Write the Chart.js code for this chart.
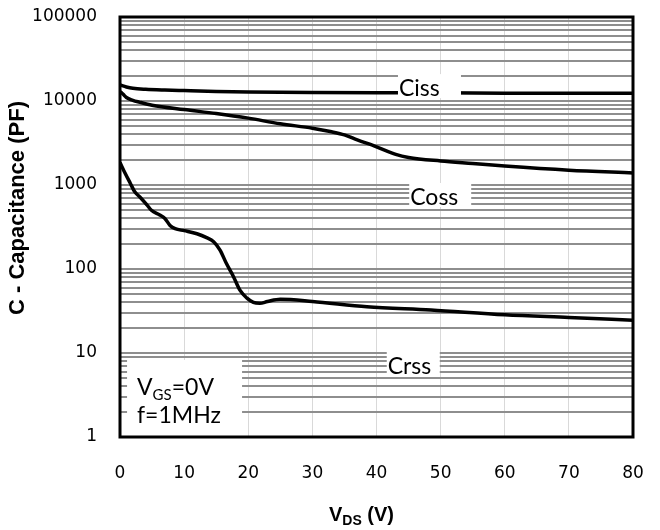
<!DOCTYPE html>
<html>
<head>
<meta charset="utf-8">
<script src="https://cdn.jsdelivr.net/npm/chart.js@4.4.1/dist/chart.umd.min.js"></script>
<style>
  html, body { margin: 0; padding: 0; background: #fff; }
  #wrap { width: 660px; height: 530px; }
</style>
</head>
<body>
<div id="wrap"><canvas id="capChart" width="660" height="530"></canvas></div>
<script>
/* ================================================================
   DATA (V_DS in volts, C in pF)
================================================================ */
const cissV = [0, 1, 2, 4, 7, 10, 15, 20, 30, 40, 50, 60, 70, 80];
const cissC = [15500, 14700, 14200, 13800, 13500, 13300, 13000, 12800, 12600, 12500, 12500, 12400, 12400, 12400];

const cossV = [0, 0.5, 1, 2, 3, 5, 10, 15, 20, 25, 30, 33, 35, 37, 40, 43, 45, 50, 55, 60, 70, 80];
const cossC = [13000, 12000, 11000, 10200, 9700, 8900, 7900, 7100, 6250, 5350, 4750, 4300, 3950, 3450, 2850, 2320, 2130, 1930, 1800, 1680, 1500, 1390];

const crssV = [0, 0.8, 1.6, 2.3, 3.1, 4.2, 4.9, 6.2, 7, 7.8, 8.6, 10, 12, 13.5, 14.6, 15.6, 16.6, 17.7, 18.7, 19.8, 20.8, 21.8, 23, 25, 30, 38.5, 48.5, 60, 70, 80];
const crssC = [1850, 1380, 1050, 830, 720, 580, 500, 440, 400, 330, 302, 286, 263, 236, 211, 168, 116, 81, 56, 45, 40, 39, 41, 43.5, 41, 35.5, 32.5, 28.5, 26.5, 24.6];

const xTicks = [0, 10, 20, 30, 40, 50, 60, 70, 80];
const yDecades = [1, 10, 100, 1000, 10000, 100000];

/* curve labels: anchor (top-left of white box) in data units */
const curveLabels = ['Ciss', 'Coss', 'Crss'];
const curveLabelV = [43.35, 45.1, 41.6];
const curveLabelC = [20900, 1057, 10.3];

const ANNO_FONT = '23px Lato';

function pts(xs, ys) { return xs.map((x, i) => ({ x, y: ys[i] })); }

function lineSet(label, data) {
  return {
    label, data,
    borderColor: '#000', backgroundColor: '#000',
    borderWidth: 3.5, pointRadius: 0,
    cubicInterpolationMode: 'monotone', fill: false
  };
}

/* ── minor log grid: 1..9 x 10^n ── */
function logTicks(scale) {
  const ticks = [];
  yDecades.forEach((d, i) => {
    if (i === yDecades.length - 1) { ticks.push({ value: d }); return; }
    for (let m = 1; m < 10; m++) ticks.push({ value: d * m });
  });
  scale.ticks = ticks;
}

/* ── white label boxes, text, frame, axis titles ── */
const decorPlugin = {
  id: 'decor',
  afterDatasetsDraw(chart) {
    const { ctx, chartArea: a, scales: { x, y } } = chart;
    ctx.save();

    // curve labels
    const boxW = [63, 62, 53];
    curveLabels.forEach((t, i) => {
      const bx = x.getPixelForValue(curveLabelV[i]);
      const by = y.getPixelForValue(curveLabelC[i]);
      ctx.fillStyle = '#fff';
      ctx.fillRect(bx, by, boxW[i], 24);
      ctx.fillStyle = '#000';
      ctx.font = ANNO_FONT;
      ctx.textAlign = 'left';
      ctx.textBaseline = 'alphabetic';
      ctx.fillText(t, bx + 1, by + 22);
    });

    // condition box
    const cx0 = x.getPixelForValue(1.1);
    const cy0 = y.getPixelForValue(8.26);
    ctx.fillStyle = '#fff';
    ctx.fillRect(cx0, cy0, 115, a.bottom - cy0);
    ctx.fillStyle = '#000';
    ctx.font = ANNO_FONT;
    let tx = cx0 + 10, base = cy0 + 35;
    ctx.fillText('V', tx, base);
    tx += ctx.measureText('V').width;
    ctx.font = '15px Lato';
    ctx.fillText('GS', tx, base + 5);
    tx += ctx.measureText('GS').width;
    ctx.font = ANNO_FONT;
    ctx.fillText('=0V', tx, base);
    ctx.fillText('f=1MHz', cx0 + 10, base + 28);

    // frame
    ctx.strokeStyle = '#000';
    ctx.lineWidth = 3;
    ctx.strokeRect(a.left, a.top, a.right - a.left, a.bottom - a.top);

    // y title
    ctx.save();
    ctx.translate(18, (a.top + a.bottom) / 2 - 19);
    ctx.rotate(-Math.PI / 2);
    ctx.font = 'bold 22px "Liberation Sans"';
    ctx.textAlign = 'center';
    ctx.textBaseline = 'middle';
    ctx.fillText('C - Capacitance (PF)', 0, 0);
    ctx.restore();

    // x title  V_DS (V)
    ctx.textAlign = 'left';
    ctx.textBaseline = 'alphabetic';
    const big = 'bold 20px "Liberation Sans"', small = 'bold 14px "Liberation Sans"';
    ctx.font = big;   const w1 = ctx.measureText('V').width;
    ctx.font = small; const w2 = ctx.measureText('DS').width;
    ctx.font = big;   const w3 = ctx.measureText(' (V)').width;
    let sx = (a.left + a.right) / 2 - (w1 + w2 + w3) / 2 - 15;
    const sy = 521;
    ctx.font = big;   ctx.fillText('V', sx, sy); sx += w1;
    ctx.font = small; ctx.fillText('DS', sx, sy + 4); sx += w2;
    ctx.font = big;   ctx.fillText(' (V)', sx, sy);

    ctx.restore();
  }
};

new Chart(document.getElementById('capChart'), {
  type: 'line',
  data: {
    datasets: [
      lineSet('Ciss', pts(cissV, cissC)),
      lineSet('Coss', pts(cossV, cossC)),
      lineSet('Crss', pts(crssV, crssC))
    ]
  },
  options: {
    responsive: false,
    animation: false,
    layout: { padding: { top: 17, right: 27, left: 0, bottom: 0 } },
    plugins: { legend: { display: false }, tooltip: { enabled: false } },
    scales: {
      x: {
        type: 'linear', min: 0, max: 80,
        afterFit: s => { s.height = 93; s.paddingLeft = 0; s.paddingRight = 0; },
        afterBuildTicks: s => { s.ticks = xTicks.map(v => ({ value: v })); },
        border: { display: false },
        grid: { color: '#d9d9d9', lineWidth: 1, drawTicks: false },
        ticks: { padding: 26, color: '#000', font: { family: 'DejaVu Sans', size: 17 }, maxRotation: 0 }
      },
      y: {
        type: 'logarithmic', min: 1, max: 100000,
        afterFit: s => { s.width = 120; s.paddingTop = 0; s.paddingBottom = 0; },
        afterBuildTicks: logTicks,
        border: { display: false },
        grid: { color: '#8e8e8e', lineWidth: 2, drawTicks: false },
        ticks: {
          autoSkip: false, padding: 23, color: '#000',
          font: { family: 'DejaVu Sans', size: 17 },
          callback: v => yDecades.includes(v) ? String(v) : ''
        }
      }
    }
  },
  plugins: [decorPlugin]
});
</script>
</body>
</html>
